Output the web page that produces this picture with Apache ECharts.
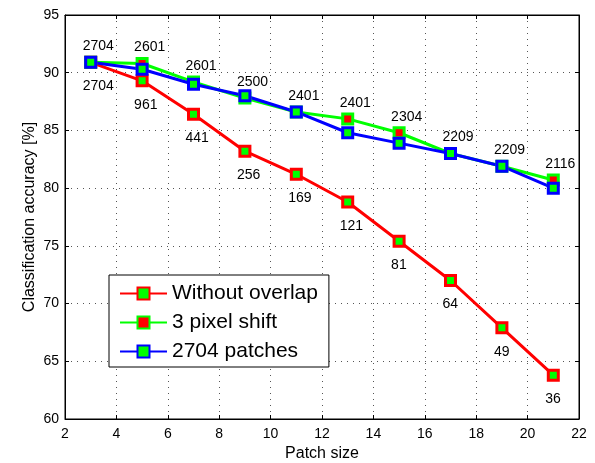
<!DOCTYPE html>
<html>
<head>
<meta charset="utf-8">
<script src="https://cdn.jsdelivr.net/npm/echarts@6/dist/echarts.min.js"></script>
<style>
  html, body { margin: 0; padding: 0; background: #fff; }
  #chart { width: 595px; height: 463px; }
</style>
</head>
<body>
<div id="chart"></div>
<script>
// patch sizes on the x axis
var patchSize = [3, 5, 7, 9, 11, 13, 15, 17, 19, 21];
// accuracy in %
var withoutOverlap = [90.9, 89.3, 86.4, 83.2, 81.2, 78.8, 75.4, 72.0, 67.9, 63.8];
var pixelShift3 = [90.9, 90.8, 89.2, 87.8, 86.6, 86.0, 84.8, 83.0, 81.9, 80.7];
var patches2704 = [90.9, 90.3, 89.0, 88.0, 86.6, 84.8, 83.9, 83.0, 81.9, 80.0];
// number of patches written next to the points
var shiftLabels = ['2704', '2601', '2601', '2500', '2401', '2401', '2304', '2209', '2209', '2116'];
var overlapLabels = ['2704', '961', '441', '256', '169', '121', '81', '64', '49', '36'];

var xTicks = { min: 2, max: 22, interval: 2 };
var yTicks = { min: 60, max: 95, interval: 5 };

function pairs(ys) {
    return patchSize.map(function (x, i) { return [x, ys[i]]; });
}

var font = 'Liberation Sans, Arial, sans-serif';
var myChart = echarts.init(document.getElementById('chart'));

var gridDots = { show: true, lineStyle: { color: '#555', width: 1, type: [1, 5] } };

var option = {
    animation: false,
    textStyle: { fontFamily: font },
    grid: {
        left: 65, right: 16, top: 15, bottom: 44,
        outerBoundsMode: 'none',
        show: true, borderColor: '#000', borderWidth: 1
    },
    legend: {
        left: 109,
        top: 275,
        orient: 'vertical',
        backgroundColor: '#fff',
        borderColor: '#000',
        borderWidth: 1,
        padding: [8, 11, 5, 10],
        itemWidth: 47,
        itemHeight: 15,
        itemGap: 8,
        textStyle: { fontSize: 21, color: '#000', fontFamily: font },
        data: ['Without overlap', '3 pixel shift', '2704 patches']
    },
    xAxis: [{
        type: 'value',
        min: xTicks.min, max: xTicks.max, interval: xTicks.interval,
        name: 'Patch size',
        nameLocation: 'middle',
        nameGap: 27,
        nameMoveOverlap: false,
        nameTextStyle: { fontSize: 16, color: '#000' },
        axisLine: { lineStyle: { color: '#000' } },
        axisTick: { inside: true, length: 4, lineStyle: { color: '#000' } },
        axisLabel: { fontSize: 14, color: '#000', margin: 8 },
        splitLine: gridDots
    }, {
        type: 'value', position: 'top',
        min: xTicks.min, max: xTicks.max, interval: xTicks.interval,
        axisLine: { lineStyle: { color: '#000' } },
        axisTick: { inside: true, length: 4, lineStyle: { color: '#000' } },
        axisLabel: { show: false },
        splitLine: { show: false }
    }],
    yAxis: [{
        type: 'value',
        min: yTicks.min, max: yTicks.max, interval: yTicks.interval,
        name: 'Classification accuracy [%]',
        nameLocation: 'middle',
        nameGap: 27,
        nameMoveOverlap: false,
        nameTextStyle: { fontSize: 16, color: '#000' },
        axisLine: { show: true, lineStyle: { color: '#000' } },
        axisTick: { show: true, inside: true, length: 4, lineStyle: { color: '#000' } },
        axisLabel: { fontSize: 14, color: '#000', margin: 6 },
        splitLine: gridDots
    }, {
        type: 'value', position: 'right',
        min: yTicks.min, max: yTicks.max, interval: yTicks.interval,
        axisLine: { show: true, lineStyle: { color: '#000' } },
        axisTick: { show: true, inside: true, length: 4, lineStyle: { color: '#000' } },
        axisLabel: { show: false },
        splitLine: { show: false }
    }],
    series: [{
        name: 'Without overlap',
        type: 'line',
        data: pairs(withoutOverlap),
        symbol: 'rect',
        symbolSize: 10,
        lineStyle: { color: '#ff0000', width: 3 },
        itemStyle: { color: '#00ff00', borderColor: '#ff0000', borderWidth: 3 },
        label: {
            show: true,
            position: 'inside',
            align: 'left',
            verticalAlign: 'middle',
            offset: [-8, 24],
            fontSize: 14,
            color: '#000',
            formatter: function (p) { return overlapLabels[p.dataIndex]; }
        }
    }, {
        name: '3 pixel shift',
        type: 'line',
        data: pairs(pixelShift3),
        symbol: 'rect',
        symbolSize: 10,
        lineStyle: { color: '#00ff00', width: 3 },
        itemStyle: { color: '#ff0000', borderColor: '#00ff00', borderWidth: 3 },
        label: {
            show: true,
            position: 'inside',
            align: 'left',
            verticalAlign: 'middle',
            offset: [-8, -16],
            fontSize: 14,
            color: '#000',
            formatter: function (p) { return shiftLabels[p.dataIndex]; }
        }
    }, {
        name: '2704 patches',
        type: 'line',
        data: pairs(patches2704),
        symbol: 'rect',
        symbolSize: 10,
        lineStyle: { color: '#0000ff', width: 3 },
        itemStyle: { color: '#00ff00', borderColor: '#0000ff', borderWidth: 3 }
    }]
};

myChart.setOption(option);
</script>
</body>
</html>
